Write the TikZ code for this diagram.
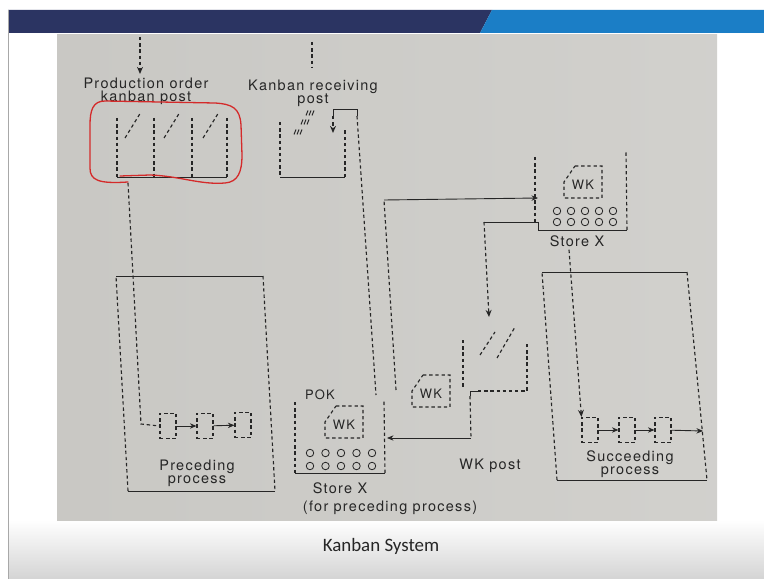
\documentclass[tikz,border=0pt]{standalone}
\usepackage{fontspec}
\usepackage{xcolor}
\usetikzlibrary{positioning,arrows.meta,calc}
\newfontfamily\bookfont[LetterSpace=9]{TeX Gyre Heros}
\newfontfamily\slidefont{Carlito}
\definecolor{navy}{HTML}{2B3462}
\definecolor{slideblue}{HTML}{1B7EC6}
\definecolor{paper}{HTML}{CFCECA}
\definecolor{ink}{HTML}{262626}
\definecolor{penred}{HTML}{D42A2A}
\definecolor{slidegrey}{HTML}{D4D4D4}
\definecolor{edge}{HTML}{A8A8A8}
\tikzset{
  dsh/.style={draw=ink, line width=1.15pt, dash pattern=on 3.4pt off 2.8pt},
  sol/.style={draw=ink, line width=0.9pt},
  ar/.style={sol, -{Stealth[length=2.3mm, width=1.9mm]}},
  dar/.style={dsh, -{Stealth[length=2.5mm, width=2.1mm]}},
  lbl/.style={font=\bookfont\fontsize{14.5}{13}\selectfont, text=ink, inner sep=1pt, align=center},
  tag/.style={font=\bookfont\fontsize{13}{13}\selectfont, text=ink, inner sep=0pt},
  slotbox/.style={dsh, minimum width=16bp, minimum height=25bp, inner sep=0pt},
  bead/.style={circle, draw=ink, line width=0.8pt, minimum size=7.5bp, inner sep=0pt},
  redpen/.style={draw=penred, line width=1.3pt, line cap=round},
  wkcard/.pic={
    \draw[dsh] (-8,-16) -- (19,-16) -- (19,16) -- (-19,16) -- (-19,0) -- cycle;
    \node[tag] (-text) at (0,3) {WK};
  },
}
\begin{document}
\begin{tikzpicture}[x=1bp, y=-1bp]
\useasboundingbox (0,0) rectangle (764,579);

% --- SLIDE ---
\fill[white] (0,0) rectangle (764,579);
\shade[top color=white, bottom color=slidegrey] (8,520) rectangle (764,579);
\fill[navy] (8,10) -- (492,10) -- (480,33) -- (8,33) -- cycle;
\fill[slideblue] (492,10) -- (764,10) -- (764,33) -- (480,33) -- cycle;
\draw[edge, line width=0.8pt] (8,10) -- (8,579);
\shade[left color=paper!97!black, right color=paper!95!white] (57,35) rectangle (717,520);
\node[font=\slidefont\fontsize{19}{22}\selectfont, text=black!85] (caption) at (381,546) {Kanban System};

% --- TOP POSTS ---
\coordinate (feedA) at (140,37);
\coordinate (feedAend) at (140,74);
\draw[dar] (feedA) -- (feedAend);
\coordinate (feedB) at (312,42);
\coordinate (feedBend) at (312,68);
\draw[dsh] (feedB) -- (feedBend);

\node[lbl] (polbl) at (146,91) {Production order\\kanban post};
\node[lbl] (krlbl) at (313,93) {Kanban receiving\\post};

% production order kanban post
\foreach \px in {117,154,192,227}
  \draw[dsh] (\px,118) -- (\px,177);
\draw[sol] (117,177) -- (227,177);
\foreach \kx in {125,164,203}
  \draw[dsh] (\kx,138) -- (\kx+16,112);
\draw[redpen] (120,176) -- (150,175) .. controls (180,176) and (200,185) .. (225,183)
  .. controls (238,182) and (242,172) .. (242,155) -- (241,125)
  .. controls (240,108) and (232,104) .. (215,103) -- (105,101)
  .. controls (93,101) and (90,110) .. (90,125) -- (90,168)
  .. controls (90,180) and (98,184) .. (128,182);

% kanban receiving post
\draw[dsh] (280,122) -- (280,177);
\draw[sol] (280,177) -- (345,177);
\draw[dsh] (345,177) -- (345,128);
\coordinate (rcvL) at (333,116);
\coordinate (rcvLend) at (333,133);
\coordinate (rcvR) at (357,116);
\draw[sol] (rcvL) -- (333,109) -- (357,109) -- (rcvR);
\draw[dar] (rcvL) -- (rcvLend);
\foreach \gx/\gy in {310/113, 305/122, 298/132}
  \foreach \k in {0,1,2}
    \draw[sol, line width=1pt] (\gx-4+3*\k,\gy+2.5) -- (\gx-2+3*\k,\gy-2.5);

% --- PRECEDING PROCESS ---
\coordinate (pA) at (116,276);
\coordinate (pB) at (263,276);
\coordinate (pC) at (275,491);
\coordinate (pD) at (128,491);
\draw[sol] (pA) -- (pB);
\draw[dsh] (pB) -- (pC);
\draw[sol] (pC) -- (pD);
\draw[dsh] (pD) -- (pA);

\node[slotbox] (slotP1) at (168,426) {};
\node[slotbox] (slotP2) at (205,426) {};
\node[slotbox] (slotP3) at (243,425) {};
\draw[ar] (slotP1) -- (slotP2);
\draw[ar] (slotP2) -- (slotP3);
\coordinate (poOut) at (128,183);
\coordinate (poTurn) at (141,424);
\draw[dsh] (poOut) -- (poTurn) -- (slotP1.west);
\node[lbl] (prec) at (197,473) {Preceding\\process};

% --- STORE X (PRECEDING) ---
\draw[dsh] (295,402) -- (295,473);
\draw[sol] (295,473) -- (385,473);
\draw[dsh] (385,473) -- (384,400);
\node[tag] (pok) at (320,395) {POK};
\pic (cardA) at (344,422) {wkcard};
\foreach \i in {0,...,4} {
  \node[bead] (beadA\i) at (310+15.5*\i,453) {};
  \node[bead] (beadB\i) at (310+15.5*\i,466) {};
}
\node[lbl] (stxa) at (340,488) {Store X};
\node[lbl, below=5bp of stxa.south, anchor=north, xshift=50bp] (forprec) {(for preceding process)};

\coordinate (rcvEnd) at (376,395);
\draw[dsh] (rcvR) -- (rcvEnd);

% --- WITHDRAWAL ---
\pic (cardB) at (431,391) {wkcard};
\coordinate (wkUp) at (396,390);
\coordinate (wkTurn) at (384,200);
\coordinate (stxbIn) at (538,198);
\draw[dsh] (wkUp) -- (wkTurn);
\draw[ar] (wkTurn) -- (stxbIn);

% WK post
\draw[dsh] (463,340) -- (463,387);
\coordinate (wpCorner) at (470,396);
\draw[sol] (wpCorner) -- (470,391) -- (478,391);
\draw[dsh] (478,391) -- (527,391) -- (527,343);
\draw[dsh] (480,355) -- (495,332);
\draw[dsh] (497,358) -- (515,327);
\coordinate (wpDown) at (471,438);
\coordinate (stxaIn) at (387,438);
\draw[dsh] (wpCorner) -- (wpDown);
\draw[ar] (wpDown) -- (stxaIn);
\node[lbl] (wkpost) at (490,466) {WK post};

% --- STORE X (SUCCEEDING) ---
\draw[dsh] (535,157) -- (535,222);
\draw[sol] (538,230) -- (627,230);
\draw[dsh] (627,230) -- (626,152);
\pic (cardC) at (583,182) {wkcard};
\foreach \i in {0,...,4} {
  \node[bead] (beadC\i) at (557+14*\i,211) {};
  \node[bead] (beadD\i) at (557+14*\i,222) {};
}
\node[lbl] (stxb) at (577,241) {Store X};
\coordinate (sbCorner) at (538,230);
\coordinate (sbTurn) at (484,222);
\coordinate (wpIn) at (489,317);
\draw[sol] (sbCorner) -- (538,222) -- (sbTurn);
\draw[dar] (sbTurn) -- (wpIn);

% --- SUCCEEDING PROCESS ---
\coordinate (sA) at (542,272);
\coordinate (sB) at (687,272);
\coordinate (sC) at (707,480);
\coordinate (sD) at (557,480);
\draw[sol] (sA) -- (sB);
\draw[dsh] (sB) -- (sC);
\draw[sol] (sC) -- (sD);
\draw[dsh] (sD) -- (sA);

\node[slotbox] (slotS1) at (590,430) {};
\node[slotbox] (slotS2) at (627,430) {};
\node[slotbox] (slotS3) at (663,430) {};
\coordinate (sOut) at (703,431);
\draw[ar] (slotS1) -- (slotS2);
\draw[ar] (slotS2) -- (slotS3);
\draw[ar] (slotS3) -- (sOut);
\draw[dar] (stxb.south) ++(-8,2) coordinate (sbDown) -- (slotS1.north west);
\node[lbl] (succ) at (630,464) {Succeeding\\process};

\end{tikzpicture}
\end{document}
